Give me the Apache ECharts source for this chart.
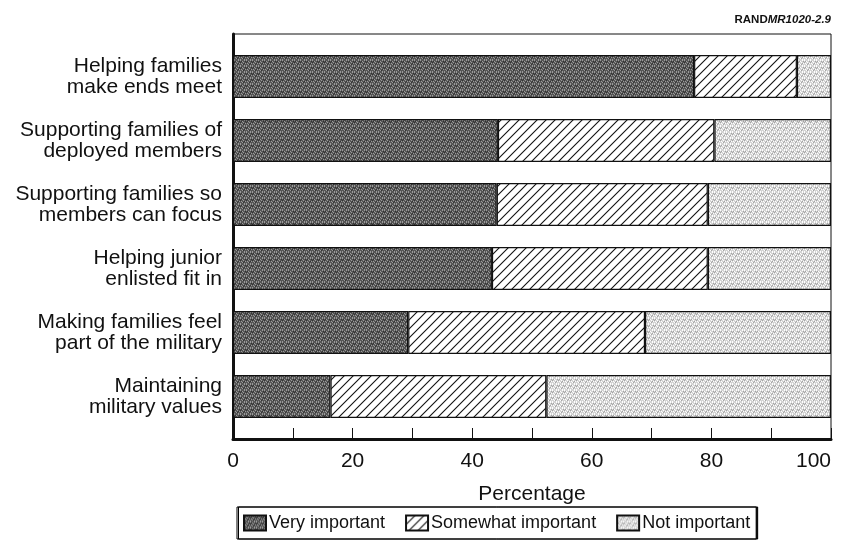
<!DOCTYPE html>
<html>
<head>
<meta charset="utf-8">
<script src="https://cdn.jsdelivr.net/npm/echarts@6/dist/echarts.min.js"></script>
<style>
html,body{margin:0;padding:0;background:#fff;}
#chart{width:846px;height:558px;}
</style>
</head>
<body>
<div id="chart"></div>
<script>
var categories = [
  'Helping families\nmake ends meet',
  'Supporting families of\ndeployed members',
  'Supporting families so\nmembers can focus',
  'Helping junior\nenlisted fit in',
  'Making families feel\npart of the military',
  'Maintaining\nmilitary values'
];
var veryImportant = [77.1, 44.3, 44.1, 43.3, 29.3, 16.3];
var somewhatImportant = [17.2, 36.2, 35.3, 36.1, 39.6, 36.1];
var notImportant = [5.7, 19.5, 20.6, 20.6, 31.1, 47.6];
var xTicks = [0, 20, 40, 60, 80, 100];
var seriesNames = ['Very important', 'Somewhat important', 'Not important'];

function makeCanvas(w, h, draw) {
  var c = document.createElement('canvas');
  c.width = w; c.height = h;
  draw(c.getContext('2d'), w, h);
  return c;
}
var darkPat = makeCanvas(6, 6, function (ctx, w, h) {
  ctx.fillStyle = '#565656'; ctx.fillRect(0, 0, w, h);
  ctx.fillStyle = '#9a9a9a';
  [[0,0],[2,1],[4,0],[1,3],[3,2],[5,3],[0,5],[2,4],[4,5]].forEach(function (p) { ctx.fillRect(p[0], p[1], 1, 1); });
  ctx.fillStyle = '#333333';
  [[1,1],[3,4],[5,1],[0,2],[4,3]].forEach(function (p) { ctx.fillRect(p[0], p[1], 1, 1); });
});
var lightPat = makeCanvas(6, 6, function (ctx, w, h) {
  ctx.fillStyle = '#d4d4d4'; ctx.fillRect(0, 0, w, h);
  ctx.fillStyle = '#ffffff';
  [[0,0],[2,1],[4,0],[1,3],[3,2],[5,3],[0,5],[2,4],[4,5]].forEach(function (p) { ctx.fillRect(p[0], p[1], 1, 1); });
  ctx.fillStyle = '#a4a4a4';
  [[1,1],[3,4],[5,1],[0,2],[4,3]].forEach(function (p) { ctx.fillRect(p[0], p[1], 1, 1); });
});
var hatchPat = makeCanvas(9, 9, function (ctx, w, h) {
  ctx.fillStyle = '#ffffff'; ctx.fillRect(0, 0, w, h);
  ctx.strokeStyle = '#111'; ctx.lineWidth = 1.1;
  ctx.beginPath();
  ctx.moveTo(0, h); ctx.lineTo(w, 0);
  ctx.moveTo(-1, 1); ctx.lineTo(1, -1);
  ctx.moveTo(w - 1, h + 1); ctx.lineTo(w + 1, h - 1);
  ctx.stroke();
});
var fills = [
  { image: darkPat, repeat: 'repeat' },
  { image: hatchPat, repeat: 'repeat' },
  { image: lightPat, repeat: 'repeat' }
];
var dataSets = [veryImportant, somewhatImportant, notImportant];

var chart = echarts.init(document.getElementById('chart'));
var font = '"Liberation Sans", Arial, Helvetica, sans-serif';
var option = {
  animation: false,
  backgroundColor: '#fff',
  title: {
    right: 10, top: 9,
    text: '{b|RAND}{i|MR1020-2.9}',
    textStyle: {
      rich: {
        b: { fontFamily: font, fontWeight: 'bold', fontSize: 11.5, color: '#111' },
        i: { fontFamily: font, fontStyle: 'italic', fontSize: 11.5, color: '#111' }
      }
    }
  },
  legend: {
    data: seriesNames,
    left: 237, top: 507,
    itemWidth: 22, itemHeight: 15, itemGap: 20,
    padding: [7, 6, 7, 6],
    borderColor: '#000', borderWidth: 1,
    shadowColor: '#000', shadowBlur: 0, shadowOffsetX: 1.5, shadowOffsetY: 0,
    backgroundColor: '#fff',
    icon: 'rect',
    textStyle: { fontFamily: font, fontSize: 18, color: '#111', padding: [0, 0, 0, -2] }
  },
  grid: [
    { left: 233, right: 15, top: 34, height: 405, show: true, borderColor: '#111', borderWidth: 1, backgroundColor: 'transparent' },
    { left: 233, right: 15, top: 44.5, height: 384 }
  ],
  xAxis: [
    {
      gridIndex: 0, type: 'value', min: 0, max: 100, interval: 10,
      name: 'Percentage', nameLocation: 'middle', nameGap: 45,
      nameTextStyle: { fontFamily: font, fontSize: 21, color: '#111' },
      axisLine: { show: true, lineStyle: { color: '#111', width: 3 } },
      axisTick: { show: true, inside: true, length: 11, lineStyle: { color: '#111', width: 1 } },
      axisLabel: {
        margin: 12, fontFamily: font, fontSize: 21, color: '#111',
        alignMaxLabel: 'right',
        formatter: function (v) { return xTicks.indexOf(v) >= 0 ? String(v) : ''; }
      },
      splitLine: { show: false }
    },
    { gridIndex: 1, type: 'value', min: 0, max: 100, show: false }
  ],
  yAxis: [
    {
      gridIndex: 0, type: 'value', min: 0, max: 1,
      axisLine: { show: true, lineStyle: { color: '#111', width: 3 } },
      axisTick: { show: false }, axisLabel: { show: false }, splitLine: { show: false }
    },
    {
      gridIndex: 1, type: 'category', data: categories, inverse: true,
      axisLine: { show: false }, axisTick: { show: false },
      axisLabel: { margin: 11, fontFamily: font, fontSize: 21, lineHeight: 21, color: '#111', align: 'right' }
    }
  ],
  series: seriesNames.map(function (n, i) {
    return {
      name: n, type: 'bar', stack: 'total', xAxisIndex: 1, yAxisIndex: 1,
      barWidth: 43,
      data: dataSets[i],
      itemStyle: { color: fills[i], borderColor: '#111', borderWidth: 1.2 }
    };
  })
};
chart.setOption(option);
</script>
</body>
</html>
